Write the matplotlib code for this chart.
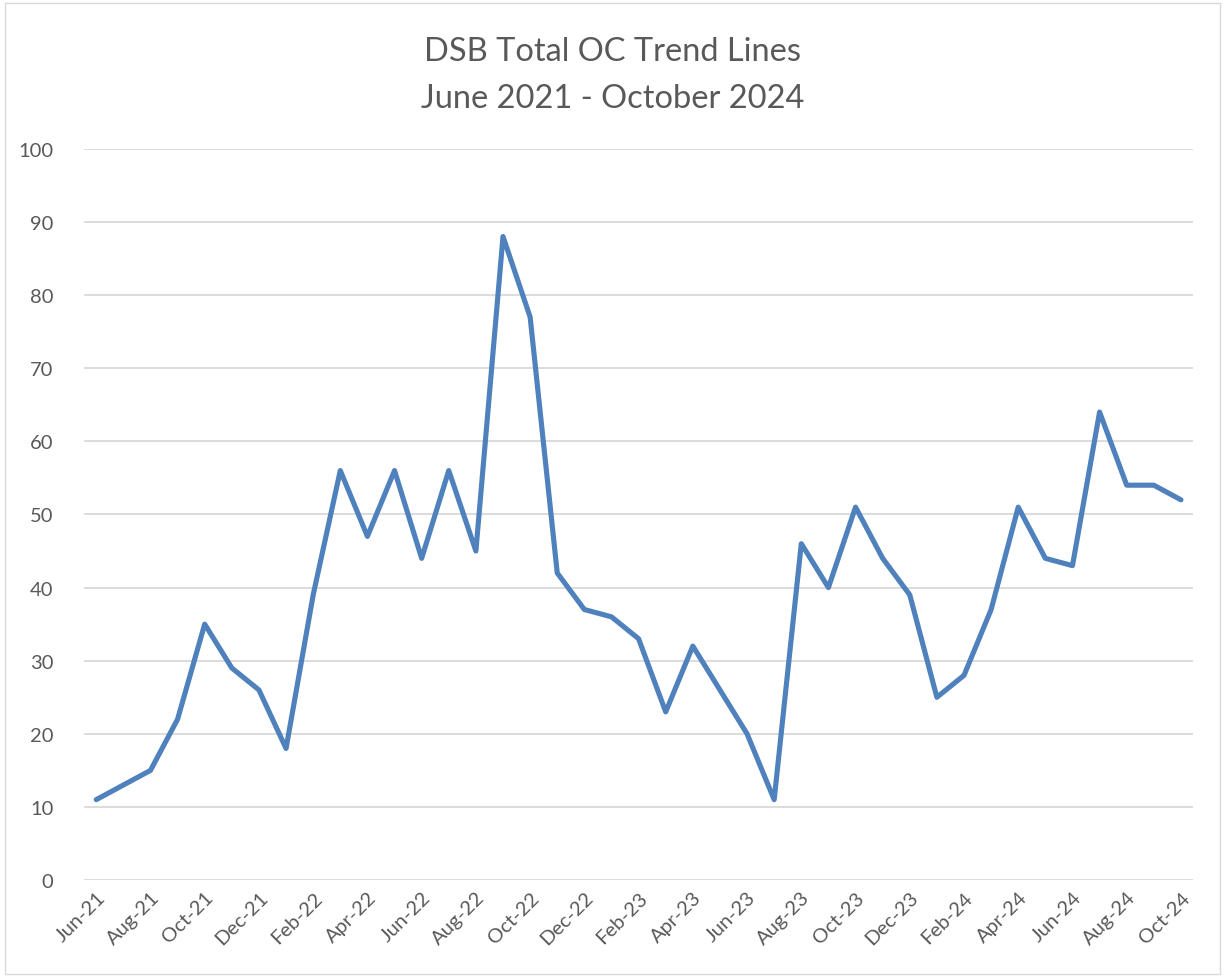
import matplotlib
matplotlib.use("Agg")
import matplotlib.pyplot as plt
from matplotlib.patches import Rectangle

plt.rcParams['font.family'] = ['Lato', 'DejaVu Sans']

# monthly data, Jun-21 .. Oct-24
months = ['Jun-21', 'Jul-21', 'Aug-21', 'Sep-21', 'Oct-21', 'Nov-21', 'Dec-21',
          'Jan-22', 'Feb-22', 'Mar-22', 'Apr-22', 'May-22', 'Jun-22', 'Jul-22',
          'Aug-22', 'Sep-22', 'Oct-22', 'Nov-22', 'Dec-22', 'Jan-23', 'Feb-23',
          'Mar-23', 'Apr-23', 'May-23', 'Jun-23', 'Jul-23', 'Aug-23', 'Sep-23',
          'Oct-23', 'Nov-23', 'Dec-23', 'Jan-24', 'Feb-24', 'Mar-24', 'Apr-24',
          'May-24', 'Jun-24', 'Jul-24', 'Aug-24', 'Sep-24', 'Oct-24']
oc_total = [11, 13, 15, 22, 35, 29, 26, 18, 39, 56, 47, 56, 44, 56, 45, 88, 77,
            42, 37, 36, 33, 23, 32, 26, 20, 11, 46, 40, 51, 44, 39, 25, 28, 37,
            51, 44, 43, 64, 54, 54, 52]
yticks = list(range(0, 101, 10))

grey = '#595959'

fig = plt.figure(figsize=(12.25, 9.79), dpi=100)
ax = fig.add_axes([0.0686, 0.100, 0.9054, 0.747])

x = list(range(len(months)))
ax.plot(x, oc_total, color='#4F81BD', lw=3.7, solid_joinstyle='round',
        solid_capstyle='round', zorder=3)

ax.set_xlim(-0.45, len(months) - 1 + 0.45)
ax.set_ylim(0, 100)
ax.set_yticks(yticks)
ax.set_xticks(x[::2])
ax.set_xticklabels(months[::2], rotation=45, ha='right', rotation_mode='anchor')
ax.tick_params(axis='both', length=0, colors=grey, labelsize=14.5)
ax.tick_params(axis='y', pad=22)
ax.tick_params(axis='x', pad=6)
ax.grid(axis='y', color='#D9D9D9', lw=1.3, zorder=0)
for s in ax.spines.values():
    s.set_visible(False)

fig.text(0.5, 0.947, 'DSB Total OC Trend Lines', ha='center', va='center',
         fontsize=23.5, color=grey)
fig.text(0.5, 0.899, 'June 2021 - October 2024', ha='center', va='center',
         fontsize=23.5, color=grey)

fig.patches.append(Rectangle((0.004, 0.004), 0.992, 0.992, transform=fig.transFigure,
                             fill=False, edgecolor='#D9D9D9', lw=1))

fig.savefig('out.png', dpi=100)
